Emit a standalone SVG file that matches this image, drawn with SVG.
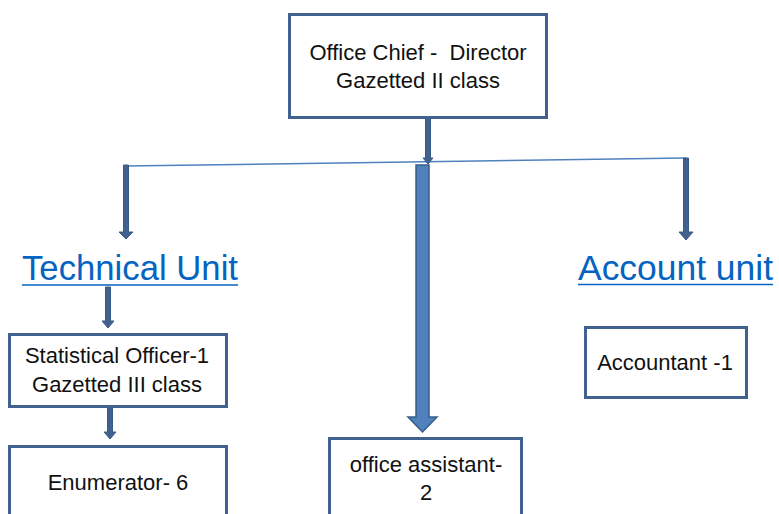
<svg xmlns="http://www.w3.org/2000/svg" width="779" height="514" viewBox="0 0 779 514">
<style>
.box{fill:#ffffff;stroke:#41618f;stroke-width:3}
.t{font-family:"Liberation Sans",Arial,sans-serif;font-size:22px;fill:#111111;text-anchor:middle}
.unit{font-family:"Liberation Sans",Arial,sans-serif;font-size:35px;fill:#0563c1;text-anchor:middle}
.ul{stroke:#0563c1;stroke-width:1.6}
.arr{fill:#41618f;stroke:#3a5a86;stroke-width:1}
.big{fill:#4f81bd;stroke:#385d8a;stroke-width:1.5}
</style>
<rect width="779" height="514" fill="#ffffff"/>
<g id="connectors">
<line x1="125" y1="166" x2="686" y2="158" stroke="#4f81bd" stroke-width="1.5"/>
<polygon class="arr" points="425.5,118 430.5,118 430.5,158 433,158 428,164 423,158 425.5,158"/>
<polygon class="arr" points="123.5,165 128.5,165 128.5,232 133,232 126,239 119,232 123.5,232"/>
<polygon class="arr" points="683.5,158 688.5,158 688.5,232 693,232 686,240 679,232 683.5,232"/>
<polygon class="arr" points="105.5,287 110.5,287 110.5,321 114,321 108,328 102,321 105.5,321"/>
<polygon class="arr" points="107.5,407 112.5,407 112.5,432 116,432 110,439 104,432 107.5,432"/>
<polygon class="big" points="416,165 429,165 429,417 437,417 422.5,432 408,417 416,417"/>
</g>
<g id="office-chief">
<rect class="box" x="289.5" y="14.5" width="257" height="103"/>
<text class="t" x="418" y="60" xml:space="preserve">Office Chief -  Director</text>
<text class="t" x="418" y="88">Gazetted II class</text>
</g>
<g id="technical-unit">
<text class="unit" x="130" y="280" textLength="216" lengthAdjust="spacingAndGlyphs">Technical Unit</text>
<line class="ul" x1="22" y1="285" x2="238" y2="285"/>
</g>
<g id="account-unit">
<text class="unit" x="675.5" y="280" textLength="195" lengthAdjust="spacingAndGlyphs">Account unit</text>
<line class="ul" x1="578" y1="284.5" x2="773" y2="284.5"/>
</g>
<g id="statistical-officer">
<rect class="box" x="9.5" y="334.5" width="217" height="72"/>
<text class="t" x="117" y="363">Statistical Officer-1</text>
<text class="t" x="117" y="392">Gazetted III class</text>
</g>
<g id="enumerator">
<rect class="box" x="9.5" y="446.5" width="217" height="80"/>
<text class="t" x="118" y="490">Enumerator- 6</text>
</g>
<g id="office-assistant">
<rect class="box" x="329.5" y="438.5" width="192" height="90"/>
<text class="t" x="426" y="472">office assistant-</text>
<text class="t" x="426" y="500">2</text>
</g>
<g id="accountant">
<rect class="box" x="585.5" y="327.5" width="161" height="70"/>
<text class="t" x="665" y="370">Accountant -1</text>
</g>
</svg>
